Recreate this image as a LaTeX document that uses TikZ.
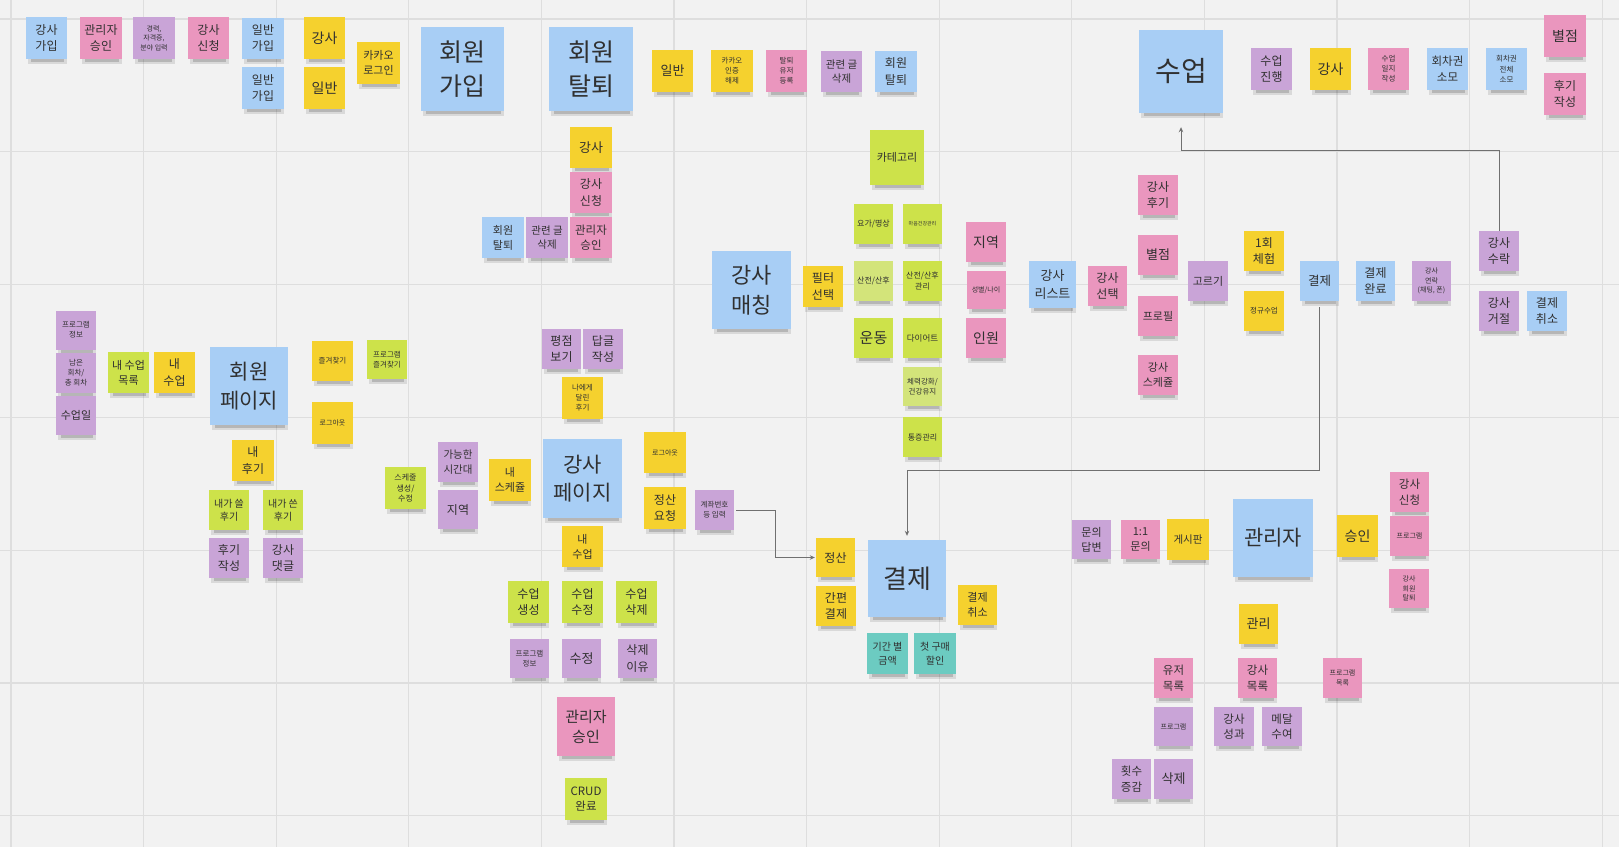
\documentclass[tikz,border=0pt]{standalone}
\usepackage{fontspec}
\setmainfont{Noto Sans CJK KR}
\usetikzlibrary{arrows.meta}
\definecolor{cbg}{HTML}{F2F2F2}
\definecolor{cgrid}{HTML}{DEDEDE}
\definecolor{cblue}{HTML}{A8CEF5}
\definecolor{cpink}{HTML}{EA96BE}
\definecolor{cpurp}{HTML}{C9A4D7}
\definecolor{cyell}{HTML}{F5D12E}
\definecolor{clime}{HTML}{CDE24A}
\definecolor{clite}{HTML}{D3E47A}
\definecolor{cteal}{HTML}{6CCBC1}
\definecolor{ctext}{HTML}{303030}
\definecolor{cline}{HTML}{707070}
\tikzset{
  stk/.style={rectangle,inner sep=0pt,align=center,text=ctext},
  conn/.style={draw=cline,line width=0.9pt,-{Stealth[length=5pt,width=4.5pt]}},
  gridl/.style={draw=cgrid,line width=1.3pt},
}
\newcommand\stk[8]{%
  \fill[black,opacity=.10] ({#3-#5/2+2},{#4+#6/2-1}) rectangle ({#3+#5/2},{#4+#6/2+5});
  \fill[black,opacity=.16] ({#3-#5/2+5},{#4+#6/2}) rectangle ({#3+#5/2-3},{#4+#6/2+3});
  \pgfmathsetmacro\lead{#7*1.35}%
  \node[stk,fill=#2,minimum width=#5pt,minimum height=#6pt,font=\fontsize{#7}{\lead}\selectfont] (#1) at (#3,#4) {#8};
}
\begin{document}
\begin{tikzpicture}[x=1pt,y=-1pt]
\fill[cbg] (0,0) rectangle (1619,847);
\useasboundingbox (0,0) rectangle (1619,847);
\foreach \i in {0,...,12} \draw[gridl] ({11+132.6*\i},0) -- ({11+132.6*\i},847);
\foreach \j in {0,...,6} \draw[gridl] (0,{19+132.8*\j}) -- (1619,{19+132.8*\j});

% --- sign up / withdraw
\stk{a1}{cblue}{46.5}{38}{41}{42}{12}{강사\\가입}
\stk{a2}{cpink}{101}{38}{42}{42}{12}{관리자\\승인}
\stk{a3}{cpurp}{154}{38}{42}{42}{7}{경력,\\자격증,\\분야 입력}
\stk{a4}{cpink}{208.5}{38}{41}{42}{12}{강사\\신청}
\stk{a5}{cblue}{263}{38}{42}{41}{12}{일반\\가입}
\stk{a6}{cblue}{263}{88}{42}{42}{12}{일반\\가입}
\stk{a7}{cyell}{324.5}{38}{41}{42}{14}{강사}
\stk{a8}{cyell}{324.5}{88}{41}{42}{14}{일반}
\stk{a9}{cyell}{378.5}{63}{43}{42}{11}{카카오\\로그인}
\stk{join}{cblue}{462.5}{69}{83}{84}{25}{회원\\가입}
\stk{quit}{cblue}{591}{69}{84}{84}{25}{회원\\탈퇴}
\stk{b1}{cyell}{672.5}{71}{41}{42}{13}{일반}
\stk{b2}{cyell}{732}{71}{42}{42}{7.5}{카카오\\인증\\해제}
\stk{b3}{cpink}{786.5}{71}{41}{42}{7.5}{탈퇴\\유저\\등록}
\stk{b4}{cpurp}{841.5}{71.5}{41}{41}{10.5}{관련 글\\삭제}
\stk{b5}{cblue}{896}{71.5}{42}{41}{12}{회원\\탈퇴}
\stk{b6}{cyell}{591}{147.5}{42}{41}{13}{강사}
\stk{b7}{cpink}{591}{192.5}{42}{41}{12}{강사\\신청}
\stk{b8}{cblue}{503}{237.5}{42}{41}{11}{회원\\탈퇴}
\stk{b9}{cpurp}{547}{237.5}{42}{41}{10.5}{관련 글\\삭제}
\stk{b10}{cpink}{591}{237.5}{42}{41}{11.5}{관리자\\승인}

% --- class
\stk{cls}{cblue}{1181}{71.5}{84}{83}{28}{수업}
\stk{c1}{cpurp}{1271.5}{69}{41}{42}{12}{수업\\진행}
\stk{c2}{cyell}{1330.5}{69}{41}{42}{14}{강사}
\stk{c3}{cpink}{1388.5}{69}{41}{42}{7.5}{수업\\일지\\작성}
\stk{c4}{cblue}{1447.5}{69}{41}{42}{11.5}{회차권\\소모}
\stk{c5}{cblue}{1506.5}{69}{41}{42}{7.5}{회차권\\전체\\소모}
\stk{c6}{cpink}{1565}{36}{42}{42}{14}{별점}
\stk{c7}{cpink}{1565}{94}{42}{42}{12}{후기\\작성}

% --- matching
\stk{match}{cblue}{751.5}{290}{79}{78}{22}{강사\\매칭}
\stk{filt}{cyell}{823}{286.5}{40}{41}{12}{필터\\선택}
\stk{cat}{clime}{897}{157.5}{54}{55}{11}{카테고리}
\stk{m1}{clime}{873.5}{224}{39}{40}{8}{요가/명상}
\stk{m2}{clime}{922.5}{224}{39}{40}{5}{마음건강관리}
\stk{m3}{clite}{873.5}{281}{39}{40}{8}{산전/산후}
\stk{m4}{clime}{922.5}{281}{39}{40}{8}{산전/산후\\관리}
\stk{m5}{clime}{873.5}{338}{39}{40}{15}{운동}
\stk{m6}{clime}{922.5}{338}{39}{40}{8.5}{다이어트}
\stk{m7}{clite}{922.5}{386.5}{39}{39}{7.5}{체력강화/\\건강유지}
\stk{m8}{clime}{922.5}{437}{39}{40}{8}{통증관리}
\stk{r1}{cpink}{986}{242}{40}{40}{14}{지역}
\stk{r2}{cpink}{986}{290}{39}{38}{7}{성별/나이}
\stk{r3}{cpink}{986}{338}{40}{40}{14}{인원}
\stk{list}{cblue}{1052.5}{284.5}{47}{47}{13}{강사\\리스트}
\stk{sel}{cpink}{1107.5}{286}{39}{40}{12}{강사\\선택}
\stk{s1}{cpink}{1158}{195}{40}{40}{12}{강사\\후기}
\stk{s2}{cpink}{1158}{255}{40}{40}{13}{별점}
\stk{s3}{cpink}{1158}{316}{40}{40}{11}{프로필}
\stk{s4}{cpink}{1158}{375}{40}{40}{11}{강사\\스케쥴}
\stk{pick}{cpurp}{1208}{281}{40}{40}{11}{고르기}
\stk{t1}{cyell}{1264}{251}{40}{40}{12}{1회\\체험}
\stk{t2}{cyell}{1264}{311}{40}{40}{7.5}{정규수업}
\stk{pay}{cblue}{1319.5}{281}{39}{40}{12.5}{결제}
\stk{paid}{cblue}{1375.5}{281}{39}{40}{12}{결제\\완료}
\stk{u1}{cpurp}{1431.5}{281}{39}{40}{7}{강사\\연락\\(채팅, 폰)}
\stk{acc}{cpurp}{1499}{251}{40}{40}{12}{강사\\수락}
\stk{rej}{cpurp}{1499}{311}{40}{40}{12}{강사\\거절}
\stk{u2}{cblue}{1547}{311}{40}{40}{12}{결제\\취소}

% --- member page
\stk{p1}{cpurp}{76}{330}{40}{39}{7.5}{프로그램\\정보}
\stk{p2}{cpurp}{76}{373}{40}{40}{7.5}{남은\\회차/\\총 회차}
\stk{p3}{cpurp}{76}{415.5}{40}{39}{11}{수업일}
\stk{p4}{clime}{128.5}{372.5}{41}{41}{11}{내 수업\\목록}
\stk{p5}{cyell}{174.5}{372.5}{41}{41}{12}{내\\수업}
\stk{mem}{cblue}{249}{386}{78}{78}{21}{회원\\페이지}
\stk{p6}{cyell}{332.5}{361}{41}{40}{7.5}{즐겨찾기}
\stk{p7}{clime}{387}{359.5}{40}{39}{7.5}{프로그램\\즐겨찾기}
\stk{p8}{cyell}{332.5}{423}{41}{42}{7}{로그아웃}
\stk{p9}{cyell}{253}{460.5}{42}{41}{12}{내\\후기}
\stk{p10}{clime}{229}{510}{40}{40}{10}{내가 쓸\\후기}
\stk{p11}{clime}{283}{510}{40}{40}{10}{내가 쓴\\후기}
\stk{p12}{cpurp}{229}{558}{40}{40}{12}{후기\\작성}
\stk{p13}{cpurp}{283}{558}{40}{40}{12}{강사\\댓글}
\stk{p14}{clime}{405.5}{488}{41}{42}{8}{스케줄\\생성/\\수정}

% --- instructor page
\stk{q1}{cpurp}{561.5}{349}{39}{40}{12}{평점\\보기}
\stk{q2}{cpurp}{603}{349}{40}{40}{12}{답글\\작성}
\stk{q3}{cyell}{582.5}{398}{41}{42}{7.5}{나에게\\달린\\후기}
\stk{q4}{cpurp}{458}{462}{40}{40}{10.5}{가능한\\시간대}
\stk{q5}{cpurp}{458}{509.5}{40}{39}{12}{지역}
\stk{q6}{cyell}{510}{480}{42}{42}{11}{내\\스케쥴}
\stk{ins}{cblue}{582.5}{478.5}{79}{79}{21}{강사\\페이지}
\stk{q7}{cyell}{665}{452.5}{42}{41}{7}{로그아웃}
\stk{q8}{cyell}{665}{508}{42}{42}{12}{정산\\요청}
\stk{acct}{cpurp}{714.5}{510}{39}{40}{7.5}{계좌번호\\등 입력}
\stk{q9}{cyell}{582.5}{546.5}{41}{41}{11}{내\\수업}
\stk{q10}{clime}{528.5}{602}{41}{42}{12}{수업\\생성}
\stk{q11}{clime}{582.5}{602}{41}{42}{12}{수업\\수정}
\stk{q12}{clime}{636.5}{602}{41}{42}{12}{수업\\삭제}
\stk{q13}{cpurp}{529.5}{658.5}{39}{39}{7.5}{프로그램\\정보}
\stk{q14}{cpurp}{581.5}{658.5}{39}{39}{13}{수정}
\stk{q15}{cpurp}{637.5}{658.5}{39}{39}{12}{삭제\\이유}
\stk{q16}{cpink}{586}{726.5}{58}{59}{15}{관리자\\승인}
\stk{q17}{clime}{586}{799}{42}{42}{11.5}{CRUD\\완료}

% --- payment
\stk{settle}{cyell}{835.5}{557.5}{39}{39}{12}{정산}
\stk{v1}{cyell}{836}{606}{40}{40}{12}{간편\\결제}
\stk{bpay}{cblue}{907}{578.5}{78}{77}{26}{결제}
\stk{v2}{cyell}{977.5}{605}{39}{40}{11}{결제\\취소}
\stk{v3}{cteal}{887.5}{653.5}{41}{41}{10}{기간 별\\금액}
\stk{v4}{cteal}{935}{653.5}{42}{41}{10}{첫 구매\\할인}

% --- admin
\stk{w1}{cpurp}{1091.5}{539.5}{39}{39}{11}{문의\\답변}
\stk{w2}{cpink}{1140.5}{539.5}{39}{39}{11}{1:1\\문의}
\stk{w3}{cyell}{1188}{539.5}{42}{41}{10.5}{게시판}
\stk{adm}{cblue}{1273}{538}{80}{78}{21}{관리자}
\stk{w4}{cyell}{1357.5}{536}{41}{42}{14}{승인}
\stk{w5}{cpink}{1409.5}{492}{39}{40}{11.5}{강사\\신청}
\stk{w6}{cpink}{1409.5}{536}{39}{40}{7}{프로그램}
\stk{w7}{cpink}{1409}{588.5}{40}{39}{7}{강사\\회원\\탈퇴}
\stk{w8}{cyell}{1258.5}{624}{39}{40}{13}{관리}
\stk{w9}{cpink}{1173.5}{678}{39}{40}{11.5}{유저\\목록}
\stk{w10}{cpink}{1257.5}{678}{39}{40}{11.5}{강사\\목록}
\stk{w11}{cpink}{1342.5}{678}{39}{40}{7}{프로그램\\목록}
\stk{w12}{cpurp}{1173.5}{726.5}{39}{39}{7}{프로그램}
\stk{w13}{cpurp}{1234}{726.5}{40}{39}{11.5}{강사\\성과}
\stk{w14}{cpurp}{1282}{726.5}{40}{39}{11.5}{메달\\수여}
\stk{w15}{cpurp}{1131.5}{779}{39}{40}{11.5}{횟수\\증감}
\stk{w16}{cpurp}{1173.5}{779}{39}{40}{13}{삭제}

% --- connectors
\draw[conn,shorten <=2pt,shorten >=1pt] (acct.east) -- ++(41,0) |- (settle.west);
\draw[conn,shorten <=6pt,shorten >=4pt] (pay.south) -- ++(0,169) -| (bpay.north);
\draw[conn,shorten >=14pt] (acc.north) -- ++(0,-80) -| (cls.south);
\end{tikzpicture}
\end{document}
